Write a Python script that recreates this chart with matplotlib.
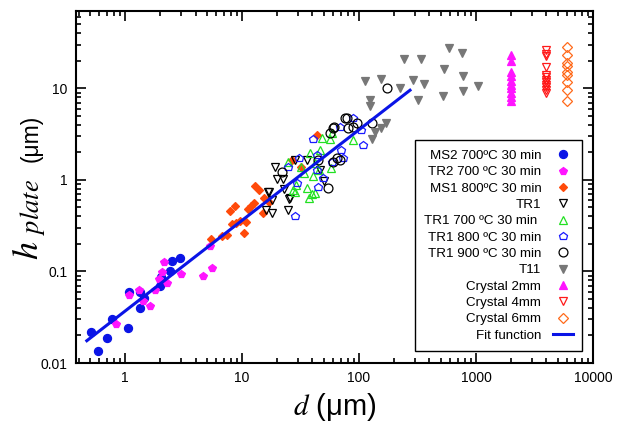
import numpy as np
import matplotlib
matplotlib.use('Agg')
from matplotlib import pyplot as plt
from matplotlib.ticker import FixedLocator, FixedFormatter, LogLocator, NullFormatter

plt.rcParams['font.family'] = ['Liberation Sans', 'DejaVu Sans']
plt.rcParams['mathtext.fontset'] = 'stix'

# --- data (d in um, h in um) ---
ms2_d = [0.51, 0.585, 0.705, 0.77, 1.06, 1.08, 1.35, 1.45, 1.34, 1.97, 2.01, 2.41, 2.52, 2.97]
ms2_h = [0.022, 0.0134, 0.019, 0.030, 0.024, 0.060, 0.060, 0.051, 0.040, 0.070, 0.088, 0.100, 0.131, 0.141]

tr2_d = [0.83, 1.08, 1.31, 1.42, 1.64, 1.81, 1.94, 2.07, 2.15, 2.28, 3.03, 4.64, 5.53, 5.29]
tr2_h = [0.027, 0.055, 0.062, 0.047, 0.042, 0.062, 0.083, 0.0975, 0.127, 0.075, 0.094, 0.090, 0.109, 0.19]

ms1_d = [5.47, 6.79, 7.37, 7.85, 8.78, 8.12, 8.94, 9.66, 10.3, 10.9, 11.3, 11.9, 12.6, 15.1,
         15.3, 17.0, 12.8, 14.0, 26.5, 32.2, 43.9]
ms1_h = [0.227, 0.245, 0.252, 0.459, 0.525, 0.329, 0.342, 0.360, 0.262, 0.351, 0.483, 0.525, 0.557, 0.433,
         0.631, 0.58, 0.85, 0.778, 1.65, 1.37, 3.1]

tr1_d = [19.1, 19.7, 16.7, 17.9, 24.7, 25.6, 22.7, 35.6, 50.4, 16.9, 25.3, 16.0, 22.5, 18.2, 28.2, 46.3]
tr1_h = [1.38, 1.02, 0.745, 0.433, 0.47, 0.63, 0.79, 1.65, 0.98, 0.73, 0.62, 0.47, 1.02, 0.605, 1.65, 1.29]

tr1_700_d = [24.7, 37.9, 46.3, 48.7, 59.3, 41.9, 33.8, 35.6, 37.5, 28.9, 58.1, 89.3, 41.9, 27.3,
             45.7, 56.2, 31.6, 40.1, 39.3, 28.2]
tr1_700_h = [1.58, 1.95, 2.12, 2.85, 3.23, 1.52, 1.18, 0.81, 0.63, 0.88, 1.34, 2.73, 0.716, 0.78,
             1.29, 2.78, 1.4, 1.10, 0.70, 0.745]

tr1_800_d = [40.5, 30.8, 43.8, 70.7, 73.3, 59.3, 43.8, 44.8, 28.2, 89.3, 105, 108.5, 24.7, 49.4, 29.2, 68.6]
tr1_800_h = [2.78, 1.72, 1.87, 2.12, 1.72, 1.58, 1.29, 0.845, 0.405, 4.7, 3.5, 2.4, 1.4, 1.04, 0.92, 3.8]

tr1_900_d = [21.8, 54.6, 60.8, 56.2, 76, 80.8, 95.5, 128, 64.4, 44.8, 172, 60.1, 68.6, 60, 89, 78.5]
tr1_900_h = [1.23, 0.81, 3.75, 3.23, 4.7, 3.66, 4.15, 4.2, 1.72, 1.65, 10.0, 1.58, 1.65, 3.66, 3.8, 4.7]

t11_d = [112, 153, 244, 337, 592, 765, 536, 780, 291, 359, 224, 1050, 771, 520, 318, 124, 124,
         170, 153, 137, 128]
t11_h = [12.1, 12.8, 21.2, 21.2, 27.7, 24.1, 16.2, 13.6, 12.3, 11.1, 10.0, 10.7, 9.4, 8.2, 7.45, 7.45, 6.4,
         4.2, 3.66, 3.3, 2.78]

cr2_h = [23, 20, 15, 13.5, 12, 11, 10, 9, 8, 7.2]
cr4_h = [26, 24, 22.5, 17, 14, 13.2, 12.5, 11.7, 11, 10.3, 9.5, 8.8]
cr6_h = [28, 23, 19, 17.5, 15, 14, 11.8, 9.6, 7.3]

fit_coef, fit_exp = 0.037, 0.99
fit_range = (0.47, 273)

fig = plt.figure(figsize=(6.19, 4.29), dpi=100)
ax = fig.add_axes([0.1228, 0.1538, 0.835, 0.8205])
ax.set_xscale('log')
ax.set_yscale('log')

def pts(dlist, hlist, label, marker, color, size, filled=True, mew=0.9):
    ax.plot(dlist, hlist, linestyle='none', marker=marker, markersize=size,
            markerfacecolor=color if filled else 'none', markeredgecolor=color,
            markeredgewidth=mew, label=label)

pts(ms2_d, ms2_h, 'MS2 700ºC 30 min', 'o', '#0a14e6', 5.8)
pts(tr2_d, tr2_h, 'TR2 700 ºC 30 min', 'p', '#ff14ff', 5.8)
pts(ms1_d, ms1_h, 'MS1 800ºC 30 min', 'D', '#ff4a0a', 4.0)
pts(tr1_d, tr1_h, 'TR1', 'v', 'black', 6.2, filled=False)
pts(tr1_700_d, tr1_700_h, 'TR1 700 ºC 30 min ', '^', '#22e022', 6.2, filled=False)
pts(tr1_800_d, tr1_800_h, 'TR1 800 ºC 30 min', 'p', '#1a1aff', 6.2, filled=False)
pts(tr1_900_d, tr1_900_h, 'TR1 900 ºC 30 min', 'o', 'black', 6.4, filled=False)
pts(t11_d, t11_h, 'T11', 'v', '#777777', 5.6)
pts([2000] * len(cr2_h), cr2_h, 'Crystal 2mm', '^', '#ff14ff', 5.4)
pts([4000] * len(cr4_h), cr4_h, 'Crystal 4mm', 'v', '#ff1a1a', 5.8, filled=False)
pts([6000] * len(cr6_h), cr6_h, 'Crystal 6mm', 'D', '#ff6a1a', 4.6, filled=False)

fd = np.logspace(np.log10(fit_range[0]), np.log10(fit_range[1]), 50)
ax.plot(fd, fit_coef * fd ** fit_exp, color='#0a14e6', lw=2.2, label='Fit function')

ax.set_xlim(0.38, 10000)
ax.set_ylim(0.01, 70)

xt = [1, 10, 100, 1000, 10000]
yt = [0.01, 0.1, 1, 10]
ax.xaxis.set_major_locator(FixedLocator(xt))
ax.xaxis.set_major_formatter(FixedFormatter([str(v) for v in xt]))
ax.yaxis.set_major_locator(FixedLocator(yt))
ax.yaxis.set_major_formatter(FixedFormatter(['0.01', '0.1', '1', '10']))
for a in (ax.xaxis, ax.yaxis):
    a.set_minor_locator(LogLocator(base=10, subs=np.arange(2, 10), numticks=20))
    a.set_minor_formatter(NullFormatter())
ax.tick_params(which='both', direction='in', top=True, right=True, width=1.2, labelsize=10)
ax.tick_params(which='major', length=7, pad=6)
ax.tick_params(which='minor', length=3.5)
for s in ax.spines.values():
    s.set_linewidth(1.5)

ax.set_xlabel(r'$d$ (μm)', fontsize=21, labelpad=4)
# y label drawn in three pieces: big italic h, large italic subscript, unit
fig.text(0.0614, 0.394, r'$h$', fontsize=26, rotation=90,
         rotation_mode='anchor', ha='left', va='baseline')
fig.text(0.0635, 0.452, r'$plate$', fontsize=19, rotation=90,
         rotation_mode='anchor', ha='left', va='baseline')
fig.text(0.0614, 0.622, '(μm)', fontsize=16.5, rotation=90,
         rotation_mode='anchor', ha='left', va='baseline')

leg = ax.legend(loc='lower right', bbox_to_anchor=(0.979, 0.034), borderaxespad=0,
                markerfirst=False, fontsize=9.6, labelspacing=0.3, handlelength=1.5,
                handletextpad=0.85, borderpad=0.7, fancybox=False, framealpha=1,
                edgecolor='black', numpoints=1)
leg.get_frame().set_linewidth(1.0)

fig.savefig('out.png', dpi=100)
